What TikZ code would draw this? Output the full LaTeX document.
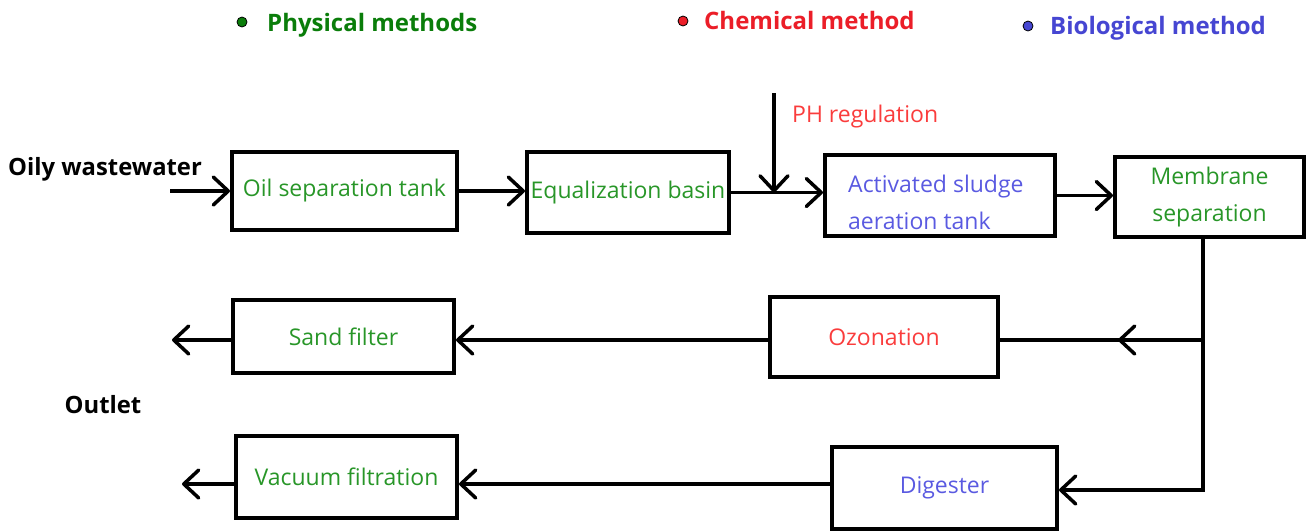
\documentclass[tikz,border=0pt]{standalone}
\usepackage{fontspec}
\setmainfont{Open Sans}
\usetikzlibrary{arrows.meta}
\definecolor{physg}{RGB}{10,125,10}
\definecolor{chemr}{RGB}{235,30,40}
\definecolor{biob}{RGB}{70,70,210}
\definecolor{boxg}{RGB}{40,150,40}
\definecolor{boxr}{RGB}{250,60,60}
\definecolor{boxb}{RGB}{90,90,225}
\tikzset{
  boxfont/.style={font=\fontsize{23}{27}\selectfont},
  box/.style={draw=black, line width=4pt, rectangle, inner sep=0pt, boxfont},
  wire/.style={line width=3.5pt, black},
  barb/.style={wire, -{Straight Barb[length=15pt,width=28pt,round]}},
  legdot/.style={circle, draw=black, line width=0.8pt, minimum size=10pt, inner sep=0pt},
  legtxt/.style={anchor=base west, font=\bfseries\fontsize{24}{28}\selectfont, inner sep=0pt},
  sidetxt/.style={font=\bfseries\fontsize{23.8}{27}\selectfont, inner sep=0pt, text=black},
}
\begin{document}
\begin{tikzpicture}[x=1pt, y=-1pt]
\useasboundingbox (0,0) rectangle (1309,531);

% legend
\node[legdot, fill=physg] (dphys) at (242,22) {};
\node[legtxt, text=physg] (lphys) at (267,31) {Physical methods};
\node[legdot, fill=chemr] (dchem) at (683,21) {};
\node[legtxt, text=chemr] (lchem) at (704,29) {Chemical method};
\node[legdot, fill=biob] (dbio) at (1028,26) {};
\node[legtxt, text=biob] (lbio) at (1050,34) {Biological method};

% side labels
\node[sidetxt, anchor=base west] (inlbl) at (8,175) {Oily wastewater};
\node[sidetxt] (outlbl) at (103,405) {Outlet};

% process units, upper row
\node[box, minimum width=225, minimum height=78, text=boxg] (oil) at (344.5,191) {Oil separation tank};
\node[box, minimum width=202, minimum height=81, text=boxg] (eq) at (628,192.5) {Equalization basin};
\node[box, minimum width=230, minimum height=81] (act) at (940,195.5) {};
\node[boxfont, text=boxb, align=left, inner sep=0pt, anchor=west] (acttxt) at ([yshift=-7pt]act.center -| 848,0) {Activated sludge\\[10pt]aeration tank};
\node[box, minimum width=189, minimum height=80, text=boxg, align=center] (mem) at (1209.5,197) {Membrane\\[10pt]separation};

% pH dosing label
\node[boxfont, text=boxr, anchor=base west, inner sep=0pt] (phlbl) at (792,122) {PH regulation};

% process units, lower rows
\node[box, minimum width=221, minimum height=73, text=boxg] (sand) at (343.5,336.5) {Sand filter};
\node[box, minimum width=228, minimum height=80, text=boxr] (ozo) at (884,337) {Ozonation};
\node[box, minimum width=221, minimum height=82, text=boxg] (vac) at (346.5,477) {Vacuum filtration};
\node[box, minimum width=225, minimum height=82, text=boxb] (dig) at (944.5,487.5) {Digester};

% free ends and bends
\coordinate (inlet) at (170,191);
\coordinate (ph) at (774,93);
\coordinate (br) at (1203,340);
\coordinate (omid) at (1118,340);
\coordinate (turn) at (1203,490);
\coordinate (out1) at (172,340);
\coordinate (out2) at (182,484);

% upper flow
\draw[barb] (inlet) -- (inlet -| oil.west);
\draw[barb] (oil.east) -- (oil.east -| eq.west);
\draw[barb] (eq.east) -- (eq.east -| act.west);
\draw[barb] (ph) -- (ph |- eq.east);
\draw[barb] (act.east) -- (act.east -| mem.west);

% branch down from membrane separation
\draw[wire, line cap=rect] (mem.south -| turn) -- (turn);
\draw[wire] (br) -- (ozo.east |- br);
\draw[barb] (br) -- (omid);
\draw[barb] (ozo.west |- br) -- (sand.east |- br);
\draw[barb] (sand.west |- out1) -- (out1);

\draw[barb] (turn) -- (turn -| dig.east);
\draw[barb] (dig.west |- out2) -- (vac.east |- out2);
\draw[barb] (vac.west |- out2) -- (out2);
\end{tikzpicture}
\end{document}
